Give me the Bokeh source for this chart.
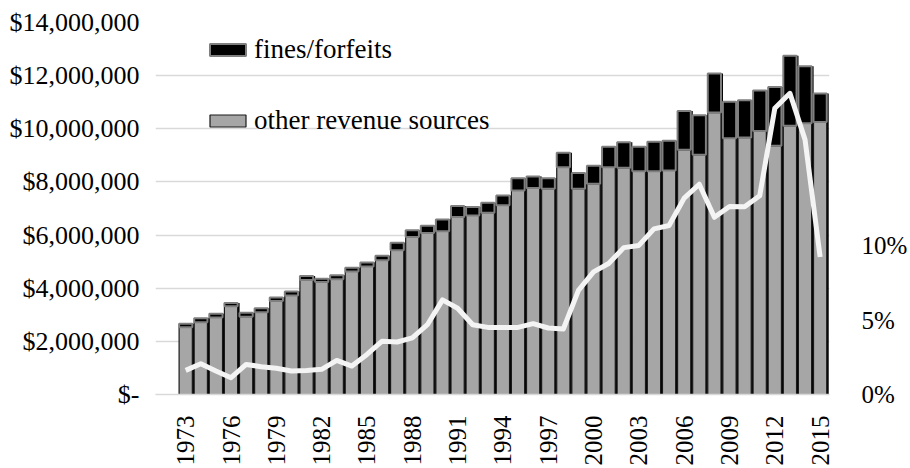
from bokeh.plotting import figure
from bokeh.models import (ColumnDataSource, Range1d, LinearAxis, FixedTicker,
                          NumeralTickFormatter, Legend, LegendItem)
from bokeh.transform import dodge
from bokeh.embed import file_html
from bokeh.resources import INLINE
import math

# ---- data ----
years = list(range(1973, 2016))
other_revenue = [2.53, 2.72, 2.90, 3.32, 2.93, 3.10, 3.52, 3.73, 4.31, 4.23,
                 4.34, 4.63, 4.82, 5.05, 5.43, 5.93, 6.08, 6.14, 6.68, 6.74,
                 6.84, 7.12, 7.68, 7.77, 7.74, 8.55, 7.74, 7.93, 8.55, 8.53,
                 8.40, 8.40, 8.43, 9.21, 9.02, 10.61, 9.64, 9.67, 9.92, 9.36,
                 10.11, 10.21, 10.26]  # millions of dollars
fines_forfeits = [0.13, 0.15, 0.14, 0.12, 0.15, 0.15, 0.13, 0.15, 0.15, 0.13,
                  0.15, 0.14, 0.15, 0.17, 0.28, 0.25, 0.27, 0.45, 0.41, 0.32,
                  0.38, 0.37, 0.46, 0.43, 0.40, 0.55, 0.60, 0.68, 0.77, 0.96,
                  0.92, 1.11, 1.12, 1.46, 1.49, 1.47, 1.38, 1.40, 1.52, 2.21,
                  2.64, 2.14, 1.07]  # millions of dollars
fines_share_pct = [1.62, 2.07, 1.58, 1.13, 2.02, 1.87, 1.76, 1.58, 1.62, 1.69,
                   2.29, 1.91, 2.69, 3.58, 3.53, 3.80, 4.69, 6.36, 5.80, 4.69,
                   4.51, 4.51, 4.51, 4.76, 4.47, 4.40, 7.00, 8.24, 8.80, 9.87,
                   10.02, 11.13, 11.36, 13.20, 14.13, 11.91, 12.64, 12.62, 13.36, 19.24,
                   20.24, 17.13, 9.24]
year_ticks = years[::3]
dollar_ticks = [0, 2e6, 4e6, 6e6, 8e6, 10e6, 12e6, 14e6]
pct_ticks = [0, 5, 10]

other = [v * 1e6 for v in other_revenue]
fines = [v * 1e6 for v in fines_forfeits]
total = [a + b for a, b in zip(other, fines)]

src = ColumnDataSource(dict(year=years, other=other, fines=fines,
                            total=total, pct=fines_share_pct))

FONT = "Liberation Serif"

p = figure(width=910, height=468, output_backend="svg", toolbar_location=None,
           x_range=Range1d(1971.0, 2015.62), y_range=Range1d(0, 14e6),
           min_border_left=155, min_border_right=78, min_border_top=22,
           min_border_bottom=71)
p.outline_line_color = None
p.background_fill_color = "white"
p.border_fill_color = "white"

p.extra_y_ranges = {"pct": Range1d(0, 25)}

# bars: dark shadow, grey base, black fines on top
p.vbar(x=dodge("year", 0.13, range=p.x_range), top="total", width=0.876,
       source=src, fill_color="black", line_color=None)
r_other = p.vbar(x="year", top="other", bottom=0, width=0.876, source=src,
                 fill_color="#a6a6a6", line_color="#1a1a1a", line_width=1.2)
r_fines = p.vbar(x="year", bottom="other", top="total", width=0.876, source=src,
                 fill_color="black", line_color="#7f7f7f", line_width=2)

# white line (share, right axis)
p.line(x="year", y="pct", source=src, y_range_name="pct",
       line_color="#f4f4f4", line_width=5, line_join="round")

# axes
xa = p.xaxis[0]
xa.ticker = FixedTicker(ticks=year_ticks)
xa.formatter.use_scientific = False
xa.major_label_orientation = math.pi / 2
xa.major_label_text_font = FONT
xa.major_label_text_font_size = "25px"
xa.major_label_text_color = "black"
xa.major_label_standoff = 15
xa.axis_line_color = "#d9d9d9"
xa.axis_line_width = 1.5
xa.major_tick_line_color = None
xa.minor_tick_line_color = None

ya = p.yaxis[0]
ya.ticker = FixedTicker(ticks=dollar_ticks)
ya.formatter = NumeralTickFormatter(format="$0,0")
ya.major_label_overrides = {0: "$-"}
ya.major_label_text_font = FONT
ya.major_label_text_font_size = "26px"
ya.major_label_text_color = "black"
ya.major_label_standoff = 10
ya.axis_line_color = None
ya.major_tick_line_color = None
ya.minor_tick_line_color = None

ra = LinearAxis(y_range_name="pct", ticker=FixedTicker(ticks=pct_ticks))
ra.formatter = NumeralTickFormatter(format="0%")
ra.major_label_overrides = {0: "0%", 5: "5%", 10: "10%"}
ra.major_label_text_font = FONT
ra.major_label_text_font_size = "25px"
ra.major_label_text_color = "black"
ra.major_label_standoff = 26
ra.axis_line_color = None
ra.major_tick_line_color = None
ra.minor_tick_line_color = None
p.add_layout(ra, "right")

p.xgrid.grid_line_color = None
p.ygrid.ticker = FixedTicker(ticks=dollar_ticks)
p.ygrid.grid_line_color = "#d9d9d9"
p.ygrid.grid_line_width = 1.5

legend = Legend(items=[LegendItem(label="fines/forfeits", renderers=[r_fines]),
                       LegendItem(label="other revenue sources", renderers=[r_other])],
                location=(50, 258))
legend.background_fill_alpha = 0
legend.border_line_alpha = 0
legend.padding = 0
legend.margin = 0
legend.spacing = 40
legend.glyph_width = 45
legend.glyph_height = 15
legend.label_height = 30
legend.label_standoff = 4
legend.label_text_font = FONT
legend.label_text_font_size = "27px"
legend.label_text_color = "black"
p.add_layout(legend)

open("out.html", "w").write(file_html(p, INLINE))
